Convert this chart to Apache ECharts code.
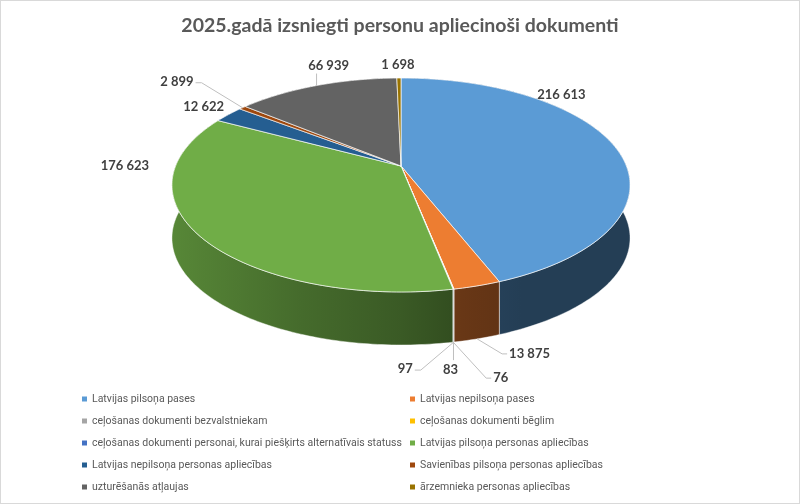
<!DOCTYPE html>
<html>
<head>
<meta charset="utf-8">
<script src="https://cdn.jsdelivr.net/npm/echarts@6/dist/echarts.min.js"></script>
<style>
  html, body { margin: 0; padding: 0; background: #fff; }
  #main { width: 800px; height: 504px; box-sizing: border-box; border: 1px solid #d9d9d9; }
</style>
</head>
<body>
<div id="main"></div>
<script>
// dati
var names = [
    'Latvijas pilsoņa pases',
    'Latvijas nepilsoņa pases',
    'ceļošanas dokumenti bezvalstniekam',
    'ceļošanas dokumenti bēglim',
    'ceļošanas dokumenti personai, kurai piešķirts alternatīvais statuss',
    'Latvijas pilsoņa personas apliecības',
    'Latvijas nepilsoņa personas apliecības',
    'Savienības pilsoņa personas apliecības',
    'uzturēšanās atļaujas',
    'ārzemnieka personas apliecības'
];
var values = [216613, 13875, 97, 83, 76, 176623, 12622, 2899, 66939, 1698];
var colors = ['#5B9BD5', '#ED7D31', '#A5A5A5', '#FFC000', '#4472C4',
              '#70AD47', '#255E91', '#9E480E', '#636363', '#997300'];

// label placement (offset from the slice rim point), alignment, leader line
var labelDx = [-54, 32, -41, -3, 40, -49, -25, -49, 12, -1];
var labelDy = [-53, 15, 27, 28, 36, -122, -8, -26, -20, -13];
var labelAlign = ['center', 'left', 'right', 'center', 'left', 'right', 'center', 'right', 'center', 'center'];
var leader = [false, true, true, true, true, false, false, true, true, false];

// 3D pie geometry
var CX = 400, CY = 165, A = 225.4, B = 103.6, K = 0.1776, DEPTH = 53;

var total = values.reduce(function (s, v) { return s + v; }, 0);
var startAngle = [];
(function () {
    var acc = 0;
    for (var i = 0; i < values.length; i++) {
        startAngle.push(acc / total * Math.PI * 2);
        acc += values[i];
    }
})();

function proj(t) {
    var s = Math.sin(t), c = Math.cos(t), d = 1 + K * c;
    return [CX + A * s / d, CY - B * c / d];
}

function shade(hex, f) {
    var r = parseInt(hex.substr(1, 2), 16), g = parseInt(hex.substr(3, 2), 16), b = parseInt(hex.substr(5, 2), 16);
    return 'rgb(' + Math.round(r * f) + ',' + Math.round(g * f) + ',' + Math.round(b * f) + ')';
}

function fmt(v) {
    return String(v).replace(/\B(?=(\d{3})+(?!\d))/g, ' ');
}

function renderSlice(i) {
    return function (params, api) {
        var color = colors[i];
        var t0 = startAngle[i];
        var t1 = t0 + values[i] / total * Math.PI * 2;
        var n = Math.max(2, Math.ceil((t1 - t0) / (Math.PI / 180)));
        var top = [], bottom = [];
        for (var k = 0; k <= n; k++) {
            var p = proj(t0 + (t1 - t0) * k / n);
            top.push(p);
            bottom.push([p[0], p[1] + DEPTH]);
        }
        var wall = top.concat(bottom.slice().reverse());
        var face = [[CX, CY]].concat(top);
        var tm = (t0 + t1) / 2;
        var anchor = proj(tm);
        if (Math.cos(tm) < 0) anchor = [anchor[0], anchor[1] + DEPTH];

        var children = [];
        children.push({
            type: 'polygon',
            z2: 10 - Math.cos(tm) * 5,
            shape: { points: wall },
            style: {
                fill: {
                    type: 'linear', x: 172, y: 0, x2: 630, y2: 0, global: true,
                    colorStops: [
                        { offset: 0, color: shade(color, 0.78) },
                        { offset: 0.28, color: shade(color, 0.62) },
                        { offset: 0.5, color: shade(color, 0.52) },
                        { offset: 0.63, color: shade(color, 0.44) },
                        { offset: 0.76, color: shade(color, 0.40) },
                        { offset: 1, color: shade(color, 0.40) }
                    ]
                },
                stroke: 'rgba(255,255,255,0.55)',
                lineWidth: 0.8
            }
        });
        children.push({
            type: 'polygon',
            z2: 50,
            shape: { points: face },
            style: { fill: color, stroke: 'rgba(255,255,255,0.85)', lineWidth: 0.8 }
        });

        var tx = anchor[0] + labelDx[i], ty = anchor[1] + labelDy[i];
        var al = labelAlign[i];
        if (leader[i]) {
            var pts;
            if (al === 'left') pts = [anchor, [tx - 7, ty], [tx - 2, ty]];
            else if (al === 'right') pts = [anchor, [tx + 8, ty + 1], [tx + 2, ty + 1]];
            else pts = [anchor, [anchor[0], ty + (ty < anchor[1] ? 8 : -10)]];
            children.push({
                type: 'polyline',
                z2: 60,
                shape: { points: pts },
                style: { stroke: '#bfbfbf', lineWidth: 1, fill: null }
            });
        }
        children.push({
            type: 'text',
            z2: 70,
            style: {
                text: fmt(values[i]),
                x: tx, y: ty,
                align: al, verticalAlign: 'middle',
                fill: '#404040',
                font: 'bold 13px Lato, "Liberation Sans", sans-serif'
            }
        });
        return { type: 'group', children: children };
    };
}

var chart = echarts.init(document.getElementById('main'));

var series = names.map(function (nm, i) {
    return {
        type: 'custom',
        name: nm,
        coordinateSystem: 'none',
        data: [values[i]],
        renderItem: renderSlice(i),
        silent: true
    };
});

var legendLeft = names.filter(function (_, i) { return i % 2 === 0; });
var legendRight = names.filter(function (_, i) { return i % 2 === 1; });
var legendBase = {
    orient: 'vertical',
    top: 386,
    icon: 'rect',
    itemWidth: 5,
    itemHeight: 5,
    itemGap: 8,
    selectedMode: false,
    textStyle: {
        fontSize: 10.5,
        lineHeight: 14,
        color: '#595959',
        fontFamily: 'Roboto, sans-serif'
    }
};

chart.setOption({
    animation: false,
    color: colors,
    title: {
        text: '2025.gadā izsniegti personu apliecinoši dokumenti',
        left: 'center',
        top: 10,
        textStyle: { fontFamily: 'Lato', fontWeight: 'bold', fontSize: 19.5, color: '#595959' }
    },
    legend: [
        Object.assign({}, legendBase, { left: 76, data: legendLeft }),
        Object.assign({}, legendBase, { left: 404, data: legendRight })
    ],
    series: series
});

window.onresize = function () {
    chart.resize();
};
</script>
</body>
</html>
